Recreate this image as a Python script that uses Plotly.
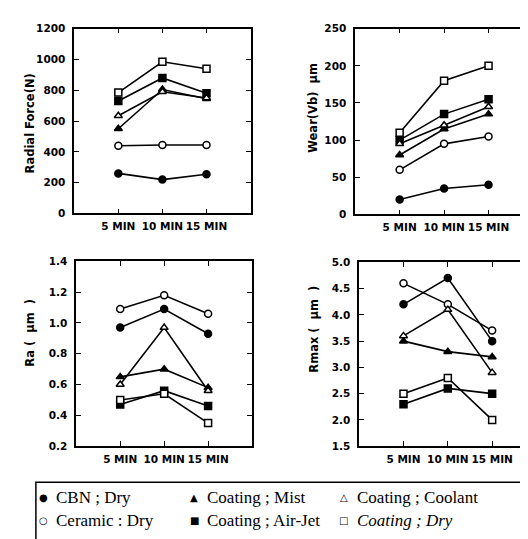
import plotly.graph_objects as go

W, H = 528, 539

times = ["5 MIN", "10 MIN", "15 MIN"]
series = ["CBN ; Dry", "Ceramic : Dry", "Coating ; Mist",
          "Coating ; Air-Jet", "Coating ; Coolant", "Coating ; Dry"]

# values per series (same order as `series`)
radial_force = [
    [260, 220, 255],
    [440, 445, 445],
    [550, 805, 745],
    [730, 880, 780],
    [635, 790, 750],
    [785, 985, 940],
]
wear_vb = [
    [20, 35, 40],
    [60, 95, 105],
    [80, 115, 135],
    [100, 135, 155],
    [95, 120, 145],
    [110, 180, 200],
]
ra = [
    [0.97, 1.09, 0.93],
    [1.09, 1.18, 1.06],
    [0.65, 0.70, 0.58],
    [0.47, 0.56, 0.46],
    [0.60, 0.97, 0.56],
    [0.50, 0.54, 0.35],
]
rmax = [
    [4.2, 4.7, 3.5],
    [4.6, 4.2, 3.7],
    [3.5, 3.3, 3.2],
    [2.3, 2.6, 2.5],
    [3.6, 4.1, 2.9],
    [2.5, 2.8, 2.0],
]

styles = [
    ("circle", "black"),
    ("circle", "white"),
    ("triangle-up", "black"),
    ("square", "black"),
    ("triangle-up", "white"),
    ("square", "white"),
]
legend_glyphs = ["●", "○", "▲", "■", "△", "□"]

fig = go.Figure()

panels = [
    (radial_force, "", (66.5, 243.5, 15, 204), [0, 4], [0, 1200], 200, "d", "Radial Force(N)", (22, 112)),
    (wear_vb, "2", (348.5, 527, 15, 205), [0, 4], [0, 250], 50, "d", "Wear(Vb)  μm", (306, 96)),
    (ra, "3", (68.5, 245, 253, 442), [0, 4], [0.2, 1.4], 0.2, ".1f", "Ra (  μm  )", (22, 326)),
    (rmax, "4", (352.5, 528, 254, 442), [0, (528 - 352.5) / 44.5], [1.5, 5.0], 0.5, ".1f", "Rmax (  μm  )", (307, 322)),
]

ytickfont = dict(family="DejaVu Sans", size=10.5, color="black", weight="bold")
xtickfont = dict(family="DejaVu Sans", size=10.5, color="black", weight="bold")
annotations = []
for data, sfx, (x0, x1, y0, y1), xr, yr, dt, fmt, title, (tx, ty) in panels:
    for vals, name, (sym, fill) in zip(data, series, styles):
        fig.add_trace(go.Scatter(
            x=[1, 2, 3], y=vals, name=name, mode="lines+markers",
            xaxis="x" + sfx, yaxis="y" + sfx, showlegend=False,
            line=dict(color="black", width=1.6),
            marker=dict(symbol=sym, size=7, color=fill, line=dict(color="black", width=1.5)),
            cliponaxis=False,
        ))
    ax = dict(domain=[x0 / W, x1 / W], range=xr, anchor="y" + sfx,
              tickvals=[1, 2, 3], ticktext=times, ticks="inside", ticklen=5,
              tickwidth=1.2, tickcolor="black", showline=True, linecolor="black",
              linewidth=1.6, mirror="ticks", showgrid=False, zeroline=False,
              tickfont=xtickfont, ticklabelstandoff=2)
    ay = dict(domain=[1 - y1 / H, 1 - y0 / H], range=yr, anchor="x" + sfx,
              dtick=dt, tick0=yr[0], tickformat=fmt, ticks="inside", ticklen=5,
              tickwidth=1.2, tickcolor="black", showline=True, linecolor="black",
              linewidth=1.6, mirror="ticks", showgrid=False, zeroline=False,
              tickfont=ytickfont, ticklabelstandoff=5)
    fig.update_layout(**{"xaxis" + sfx: ax, "yaxis" + sfx: ay})
    annotations.append(dict(x=tx / W, y=1 - ty / H, xref="paper", yref="paper",
                            text=title, textangle=-90, showarrow=False,
                            font=dict(family="DejaVu Sans", size=11.5, color="black", weight="bold"),
                            xanchor="center", yanchor="middle"))

# legend box (layout elements)
col_marker_x = [36, 187, 337]
col_text_x = [46, 198, 348]
row_y = [494, 518]
legend_order = [0, 2, 4, 1, 3, 5]
for k, idx in enumerate(legend_order):
    r, c = divmod(k, 3)
    txt = series[idx]
    if idx == 5:
        txt = "<i>" + txt + "</i>"
    annotations.append(dict(x=col_marker_x[c] / W, y=1 - row_y[r] / H, xref="paper", yref="paper",
                            text=legend_glyphs[idx], showarrow=False, xanchor="center", yanchor="middle",
                            font=dict(family="DejaVu Sans", size=10, color="black")))
    annotations.append(dict(x=col_text_x[c] / W, y=1 - row_y[r] / H, xref="paper", yref="paper",
                            text=txt, showarrow=False, xanchor="left", yanchor="middle",
                            font=dict(family="Liberation Serif", size=17, color="black")))

fig.update_layout(
    width=W, height=H, margin=dict(l=0, r=0, t=0, b=0),
    paper_bgcolor="white", plot_bgcolor="white",
    annotations=annotations,
    shapes=[dict(type="rect", xref="paper", yref="paper",
                 x0=28 / W, x1=540 / W, y0=1 - 479 / H, y1=1 - 560 / H,
                 line=dict(color="black", width=1.5))],
    showlegend=False,
)

fig.write_html("out.html")
